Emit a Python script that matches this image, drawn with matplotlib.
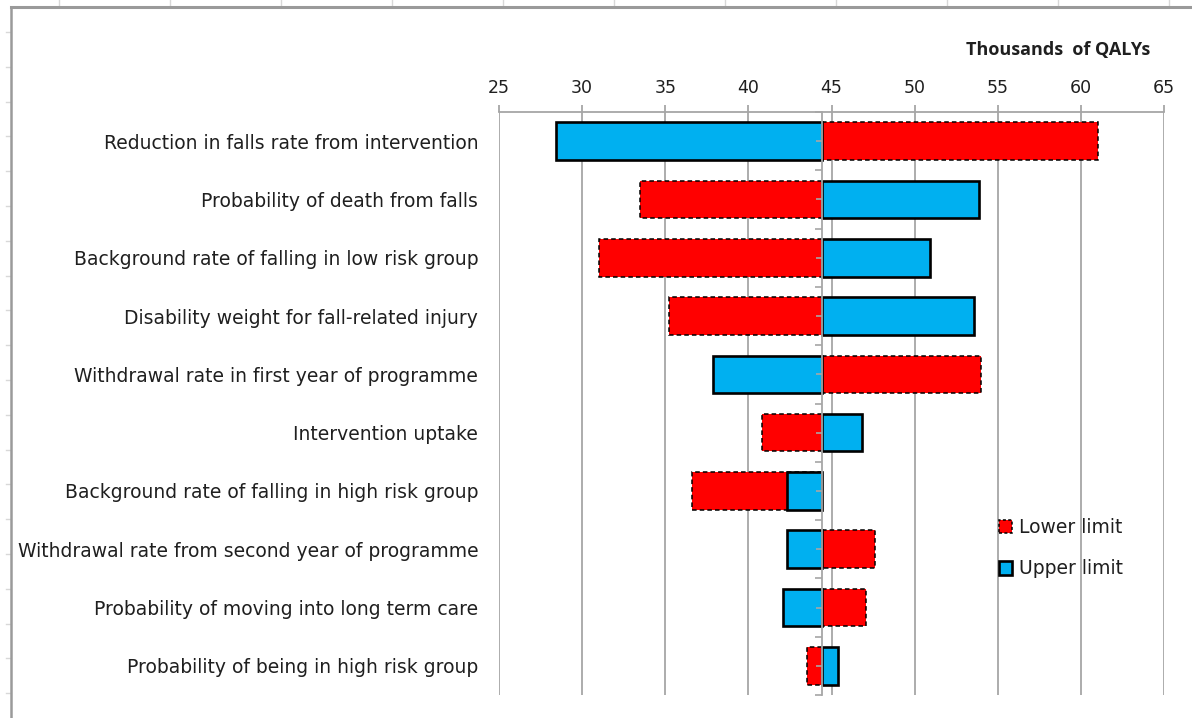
import matplotlib
matplotlib.use("Agg")
import matplotlib.pyplot as plt
from matplotlib.patches import Patch
from matplotlib.lines import Line2D
import numpy as np

# Tornado chart: one-way sensitivity of QALYs gained (thousands)
categories = [
    "Reduction in falls rate from intervention",
    "Probability of death from falls",
    "Background rate of falling in low risk group",
    "Disability weight for fall-related injury",
    "Withdrawal rate in first year of programme",
    "Intervention uptake",
    "Background rate of falling in high risk group",
    "Withdrawal rate from second year of programme",
    "Probability of moving into long term care",
    "Probability of being in high risk group",
]
base_value = 44.4
lower_limit = [61.05, 33.5, 31.0, 35.25, 54.0, 40.8, 36.6, 47.6, 47.05, 43.5]
upper_limit = [28.45, 53.9, 50.9, 53.6, 37.9, 46.85, 42.3, 42.3, 42.1, 45.4]
x_ticks = [25, 30, 35, 40, 45, 50, 55, 60, 65]

RED = "#FF0000"
BLUE = "#00B0F0"
GRID = "#A6A6A6"
TEXT = "#1F1F1F"

plt.rcParams["font.family"] = ["DejaVu Sans"]

W, H = 1192, 718
fig = plt.figure(figsize=(W / 100, H / 100), dpi=100)
fig.patch.set_facecolor("white")

# plot area in pixel terms
left_px, right_px, top_px, bottom_px = 499, 1164, 112, 695
ax = fig.add_axes([left_px / W, 1 - bottom_px / H,
                   (right_px - left_px) / W, (bottom_px - top_px) / H])

y = np.arange(len(categories))
bar_h = 0.645

lower = np.array(lower_limit)
upper = np.array(upper_limit)

ax.barh(y, lower - base_value, left=base_value, height=bar_h,
        color=RED, edgecolor="black", linewidth=1.1, linestyle=(0, (3, 2)),
        zorder=3)
ax.barh(y, upper - base_value, left=base_value, height=bar_h,
        color=BLUE, edgecolor="black", linewidth=1.9, zorder=4)

ax.set_xlim(x_ticks[0], x_ticks[-1])
ax.set_ylim(len(categories) - 0.5, -0.5)

# value axis along the top
ax.xaxis.tick_top()
ax.set_xticks(x_ticks)
ax.tick_params(axis="x", direction="out", length=5, width=1.3, color=GRID,
               labelsize=12.5, labelcolor=TEXT, pad=6)
ax.grid(axis="x", color=GRID, linewidth=1.3, zorder=0)
ax.set_axisbelow(True)

# category axis crossing at the base value
for s in ("right", "bottom"):
    ax.spines[s].set_visible(False)
ax.spines["top"].set_color(GRID)
ax.spines["top"].set_linewidth(1.3)
ax.spines["left"].set_position(("data", base_value))
ax.spines["left"].set_color(GRID)
ax.spines["left"].set_linewidth(1.3)
ax.spines["left"].set_zorder(6)
ax.set_yticks(np.arange(len(categories) + 1) - 0.5)
ax.set_yticks(y, minor=True)
ax.yaxis.set_ticklabels([])
ax.tick_params(axis="y", which="both", direction="out", color=GRID,
               width=1.2, labelleft=False)
ax.tick_params(axis="y", which="major", length=5)
ax.tick_params(axis="y", which="minor", length=4)
ax.yaxis.set_zorder(6)

# category labels at the left edge of the plot area
sec = ax.secondary_yaxis("left")
sec.set_yticks(y, labels=categories)
sec.tick_params(length=0, pad=15, labelsize=13.5, labelcolor=TEXT)
sec.spines["left"].set_visible(False)

ax.text(0.98, 1.107, "Thousands  of QALYs", transform=ax.transAxes,
        ha="right", va="center", fontsize=13, fontweight="bold", color=TEXT,
        family=["Open Sans", "DejaVu Sans"])

handles = [
    Patch(facecolor=RED, edgecolor="black", linewidth=1.1,
          linestyle=(0, (2, 1.5)), label="Lower limit"),
    Patch(facecolor=BLUE, edgecolor="black", linewidth=1.9,
          label="Upper limit"),
]
leg = ax.legend(handles=handles, loc="upper left",
                bbox_to_anchor=((999 - left_px) / (right_px - left_px),
                                (bottom_px - 518) / (bottom_px - top_px)),
                frameon=False, fontsize=13.5, handlelength=0.7,
                handleheight=0.7, handletextpad=0.35, labelspacing=1.2,
                borderaxespad=0, borderpad=0)
for t in leg.get_texts():
    t.set_color(TEXT)

# surrounding worksheet frame
def fig_line(xs, ys, **kw):
    fig.add_artist(Line2D([v / W for v in xs], [1 - v / H for v in ys],
                          transform=fig.transFigure, **kw))

for k in range(11):
    xp = 58.5 + 111 * k
    fig_line([xp, xp], [0, 6], color="#D8D8D8", linewidth=1)
for k in range(20):
    yp = 32 + 34.8 * k
    fig_line([6, 10], [yp, yp], color="#D8D8D8", linewidth=1)
fig_line([11, 11], [7, H], color="#9A9A9A", linewidth=1.8)
fig_line([11, W], [7, 7], color="#9A9A9A", linewidth=2.2)

fig.savefig("out.png", dpi=100, facecolor="white")
